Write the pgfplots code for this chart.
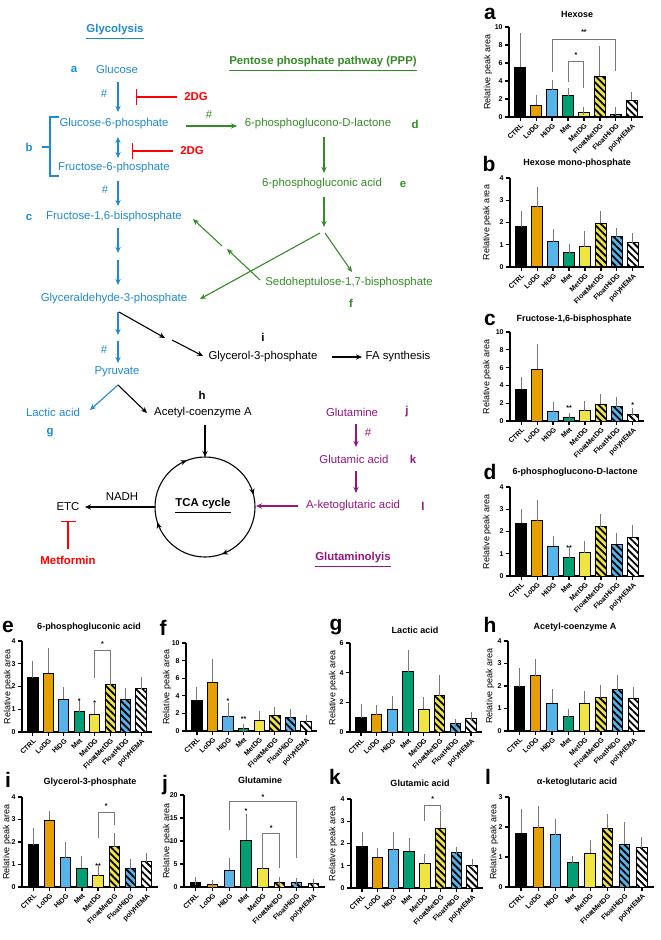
\documentclass[border=0pt]{standalone}
\usepackage{fontspec}
\setmainfont{Liberation Sans}
\usepackage{pgfplots}
\usepackage{pgfplotstable}
\pgfplotsset{compat=1.18}
\usetikzlibrary{patterns.meta,arrows.meta,decorations.markings}

\definecolor{cblue}{RGB}{30,138,208}
\definecolor{cgreen}{RGB}{52,140,38}
\definecolor{cpurple}{RGB}{150,22,128}
\definecolor{cred}{RGB}{255,0,0}
\definecolor{bOr}{HTML}{E69F00}
\definecolor{bBl}{HTML}{56B4E9}
\definecolor{bGr}{HTML}{009E73}
\definecolor{bYe}{HTML}{F0E442}
\definecolor{eGray}{RGB}{120,120,120}

\newcommand{\dfont}{\fontsize{5.7}{7}\selectfont}
\newcommand{\tfont}{\bfseries\fontsize{4.5}{5}\selectfont}
\newcommand{\lfont}{\fontsize{4.5}{5}\selectfont}
\newcommand{\kfont}{\bfseries\fontsize{3.5}{4}\selectfont}
\newcommand{\pfont}{\bfseries\fontsize{10.5}{12}\selectfont}

\pgfplotstableread{
y t
5.5 8.9
1.3 2.05
3.0 3.7
2.35 2.75
0.45 0.7
4.5 7.4
0.3 0.65
1.85 2.35
}\tA
\pgfplotstableread{
y t
1.81 2.33
2.70 3.43
1.13 1.54
0.65 0.87
0.92 1.42
1.96 2.35
1.35 1.58
1.09 1.36
}\tB
\pgfplotstableread{
y t
3.55 4.55
5.8 8.2
1.05 1.68
0.35 0.42
1.13 1.77
1.9 2.55
1.62 2.28
0.75 1.05
}\tC
\pgfplotstableread{
y t
2.38 2.85
2.48 3.25
1.33 1.62
0.83 1.1
1.05 1.4
2.22 2.6
1.42 1.75
1.75 2.1
}\tD
\pgfplotstableread{
y t
2.38 2.93
2.58 3.52
1.45 1.8
0.9 1.22
0.78 1.1
2.08 2.52
1.43 1.76
1.91 2.26
}\tE
\pgfplotstableread{
y t
3.5 4.5
5.53 7.75
1.6 2.75
0.25 0.33
1.22 1.8
1.8 2.28
1.5 2.05
1.03 1.33
}\tF
\pgfplotstableread{
y t
0.95 1.65
1.18 1.52
1.54 2.19
4.05 5.27
1.54 2.1
2.45 3.6
0.57 0.61
0.9 1.09
}\tG
\pgfplotstableread{
y t
1.96 2.62
2.46 3.03
1.23 1.69
0.64 0.82
1.23 1.6
1.48 1.86
1.84 2.31
1.45 1.77
}\tH
\pgfplotstableread{
y t
1.88 2.44
2.97 3.18
1.3 1.84
0.84 1.18
0.5 0.76
1.78 2.21
0.81 1.07
1.12 1.33
}\tI
\pgfplotstableread{
y t
0.95 1.2
0.6 0.75
3.6 5.4
10.2 14.9
4.0 6.05
1.05 1.2
0.95 1.02
0.8 0.9
}\tJ
\pgfplotstableread{
y t
1.88 2.32
1.38 1.64
1.72 2.33
1.65 2.06
1.08 1.34
2.69 3.27
1.58 1.68
1.01 1.14
}\tK
\pgfplotstableread{
y t
1.79 2.48
1.98 2.58
1.74 2.15
0.81 0.9
1.13 1.45
1.94 2.3
1.43 2.02
1.31 1.52
}\tL

\tikzset{sig/.style={draw=eGray, line width=0.5pt}}
\pgfplotsset{
  panel/.style={
    scale only axis, anchor=south west,
    xmin=-0.7, xmax=7.7, ymin=0,
    axis x line*=bottom, axis y line*=left,
    axis line style={line width=0.7pt},
    every tick/.style={black, line width=0.6pt},
    tick align=outside, major tick length=2pt,
    xtick={0,...,7},
    xticklabels={CTRL,LoDG,HiDG,Met,MetDG,FloatMetDG,FloatHiDG,polyHEMA},
    xticklabel style={rotate=45, anchor=north east, font=\kfont, inner sep=0.5pt},
    yticklabel style={font=\kfont, inner sep=1pt},
    /pgf/number format/assume math mode=true,
    ylabel={Relative peak area},
    ylabel style={font=\lfont, at={(axis description cs:0,0.5)}, anchor=center, yshift=#1*0.5pt},
    clip=false,
  },
  bb/.style={ybar, bar width=5.2pt, bar shift=0pt, draw=black, line width=0.5pt,
    error bars/y dir=plus, error bars/y explicit,
    error bars/error bar style={line width=0.5pt, draw=eGray},
    error bars/error mark options={line width=0.5pt, mark size=2pt, draw=eGray}},
  bs0/.style={fill=black, bb},
  bs1/.style={fill=bOr, bb},
  bs2/.style={fill=bBl, bb},
  bs3/.style={fill=bGr, bb},
  bs4/.style={fill=bYe, bb},
  bs5/.style={preaction={fill=bYe}, pattern={Lines[angle=-45,distance=2.4pt,line width=0.9pt]}, pattern color=black, bb},
  bs6/.style={preaction={fill=bBl}, pattern={Lines[angle=-45,distance=2.4pt,line width=0.9pt]}, pattern color=black, bb},
  bs7/.style={preaction={fill=white}, pattern={Lines[angle=-45,distance=2.4pt,line width=0.9pt]}, pattern color=black, bb},
}
\newcommand{\drawbars}[1]{\pgfplotsinvokeforeach{0,...,7}{\addplot[bs##1] table[x expr=\coordindex, y=y, y error expr=\thisrow{t}-\thisrow{y}, restrict x to domain=##1:##1] {#1};}}
\newcommand{\sst}[3]{\node[font=\kfont, inner sep=0pt] at (axis cs:#1,#2) {#3};}

\begin{document}
\begin{tikzpicture}[x=0.5pt,y=-0.5pt, >={Stealth[length=3pt,width=2.6pt]}]
\useasboundingbox (0,0) rectangle (660,940);

% ---------------- diagram ----------------
\begin{scope}[font=\dfont, line width=0.55pt]
\node[cblue, font=\dfont\bfseries] at (115,32) {\underline{Glycolysis}};
\node[cgreen, font=\dfont\bfseries] at (323,64) {\underline{Pentose phosphate pathway (PPP)}};
\node[cblue, font=\dfont\bfseries] at (74,69) {a};
\node[cblue] at (117,69) {Glucose};
\draw[cblue,->] (118,82) -- (118,112);
\node[cblue] at (104,94) {\#};
\draw[cred, line width=0.6pt, {Bar[width=8pt]}-] (136,97) -- (177,97);
\node[cred, font=\dfont\bfseries] at (196,97) {2DG};
\node[cblue] at (114,124) {Glucose-6-phosphate};
\draw[cgreen,->] (186,126) -- (237,126);
\node[cgreen] at (209,115) {\#};
\node[cgreen] at (318,124) {6-phosphoglucono-D-lactone};
\node[cgreen, font=\dfont\bfseries] at (415,124) {d};
\draw[cblue,<->] (118,137) -- (118,158);
\draw[cred, line width=0.6pt, {Bar[width=8pt]}-] (132,151) -- (173,151);
\node[cred, font=\dfont\bfseries] at (192,151) {2DG};
\node[cblue, font=\dfont\bfseries] at (29,147) {b};
\draw[cblue] (59,117) -- (50,117) -- (50,176) -- (59,176);
\draw[cblue] (42,147) -- (50,147);
\node[cblue] at (114,168) {Fructose-6-phosphate};
\node[cblue] at (105,190) {\#};
\draw[cblue,->] (118,181) -- (118,206);
\node[cblue, font=\dfont\bfseries] at (29,217) {c};
\node[cblue] at (114,217) {Fructose-1,6-bisphosphate};
\draw[cgreen,->] (324,137) -- (324,173);
\node[cgreen] at (322,184) {6-phosphogluconic acid};
\node[cgreen, font=\dfont\bfseries] at (403,184) {e};
\draw[cgreen,->] (324,197) -- (324,227);
\draw[cgreen,->] (320,233) -- (200,299);
\draw[cgreen,->] (325,233) -- (352,272);
\draw[cgreen,->] (260,280) -- (227,249);
\draw[cgreen,->] (222,246) -- (193,219);
\node[cgreen] at (349,283) {Sedoheptulose-1,7-bisphosphate};
\node[cgreen, font=\dfont\bfseries] at (351,303) {f};
\draw[cblue,->] (118,228) -- (118,253);
\draw[cblue,->] (118,260) -- (118,285);
\node[cblue] at (114,299) {Glyceraldehyde-3-phosphate};
\draw[cblue,->] (118,312) -- (118,335);
\draw[cblue,->] (118,341) -- (118,363);
\node[cblue] at (104,350) {\#};
\draw[->] (119,312) -- (165,338);
\draw[->] (172,340) -- (203,356);
\node[font=\dfont\bfseries] at (263,337) {i};
\node at (263,357) {Glycerol-3-phosphate};
\draw[->] (332,357) -- (362,357);
\node at (398,357) {FA synthesis};
\node[cblue] at (117,372) {Pyruvate};
\draw[cblue,->] (118,385) -- (90,410);
\node[cblue] at (53,412) {Lactic acid};
\node[cblue, font=\dfont\bfseries] at (50,433) {g};
\draw[->] (118,385) -- (147,413);
\node[font=\dfont\bfseries] at (202,395) {h};
\node at (203,413) {Acetyl-coenzyme A};
\draw[->] (205,425) -- (205,457);
\draw[decoration={markings,
   mark=at position 0.195 with {\arrow{Stealth[length=3pt,width=2.6pt]}},
   mark=at position 0.45 with {\arrow{Stealth[length=3pt,width=2.6pt]}},
   mark=at position 0.69 with {\arrow{Stealth[length=3pt,width=2.6pt]}},
   mark=at position 0.96 with {\arrow{Stealth[length=3pt,width=2.6pt]}}},
   postaction={decorate}] (205,507) circle[radius=50];
\node[font=\dfont\bfseries] at (203,506) {\underline{TCA cycle}};
\node at (122,497) {NADH};
\draw[->] (155,507) -- (85,507);
\node at (68,507) {ETC};
\draw[cred, line width=0.6pt, {Bar[width=7.5pt]}-] (68,521) -- (68,549);
\node[cred, font=\dfont\bfseries] at (68,560) {Metformin};
\node[cpurple] at (352,412) {Glutamine};
\node[cpurple, font=\dfont\bfseries] at (407,412) {j};
\draw[cpurple,->] (356,424) -- (356,447);
\node[cpurple] at (368,433) {\#};
\node[cpurple] at (354,459) {Glutamic acid};
\node[cpurple, font=\dfont\bfseries] at (413,459) {k};
\draw[cpurple,->] (356,471) -- (356,493);
\node[cpurple] at (353,506) {A-ketoglutaric acid};
\node[cpurple, font=\dfont\bfseries] at (423,506) {l};
\draw[cpurple,->] (298,506) -- (256,506);
\node[cpurple, font=\dfont\bfseries] at (353,560) {\underline{Glutaminolyis}};
\end{scope}

% ---------------- titles & letters ----------------
\node[font=\pfont] at (490,14) {a};
\node[font=\tfont] at (577,14) {Hexose};
\node[font=\pfont] at (489,164) {b};
\node[font=\tfont] at (577,163) {Hexose mono-phosphate};
\node[font=\pfont] at (490,320) {c};
\node[font=\tfont] at (574,319) {Fructose-1,6-bisphosphate};
\node[font=\pfont] at (490,472) {d};
\node[font=\tfont] at (575,472) {6-phosphoglucono-D-lactone};
\node[font=\pfont] at (8,627) {e};
\node[font=\tfont] at (89,627) {6-phosphogluconic acid};
\node[font=\pfont] at (163,628) {f};
\node[font=\pfont] at (336,627) {g};
\node[font=\tfont] at (415,630) {Lactic acid};
\node[font=\pfont] at (490,625) {h};
\node[font=\tfont] at (575,627) {Acetyl-coenzyme A};
\node[font=\pfont] at (8,780) {i};
\node[font=\tfont] at (90,782) {Glycerol-3-phosphate};
\node[font=\pfont] at (165,785) {j};
\node[font=\tfont] at (260,780) {Glutamine};
\node[font=\pfont] at (335,777) {k};
\node[font=\tfont] at (420,783) {Glutamic acid};
\node[font=\pfont] at (488,777) {l};
\node[font=\tfont] at (577,782) {α-ketoglutaric acid};

% ---------------- a ----------------
\begin{axis}[panel=21, at={(509*0.5pt,-117*0.5pt)}, width=134*0.5pt, height=90*0.5pt, ymax=10, ytick={0,2,...,10}]
\drawbars{\tA}
\draw[sig] (axis cs:2,5.0) -- (axis cs:2,8.65) -- (axis cs:6,8.65) -- (axis cs:6,5.1);
\sst{4}{9.4}{**}
\draw[sig] (axis cs:3,3.9) -- (axis cs:3,6.15) -- (axis cs:4,6.15) -- (axis cs:4,3.2);
\sst{3.5}{6.9}{*}
\end{axis}
% ---------------- b ----------------
\begin{axis}[panel=23, at={(510*0.5pt,-267*0.5pt)}, width=134*0.5pt, height=89*0.5pt, ymax=4, ytick={0,1,...,4}]
\drawbars{\tB}
\end{axis}
% ---------------- c ----------------
\begin{axis}[panel=23, at={(510*0.5pt,-421*0.5pt)}, width=134*0.5pt, height=89*0.5pt, ymax=10, ytick={0,2,...,10}]
\drawbars{\tC}
\sst{3}{1.5}{**}
\sst{7}{1.75}{*}
\end{axis}
% ---------------- d ----------------
\begin{axis}[panel=23, at={(510*0.5pt,-576*0.5pt)}, width=134*0.5pt, height=89*0.5pt, ymax=4, ytick={0,1,...,4}]
\drawbars{\tD}
\sst{3}{1.25}{**}
\end{axis}
% ---------------- e ----------------
\begin{axis}[panel=14, at={(22*0.5pt,-732*0.5pt)}, width=130*0.5pt, height=91*0.5pt, ymax=4, ytick={0,1,...,4}]
\drawbars{\tE}
\sst{3}{1.37}{*}
\sst{4}{1.27}{*}
\draw[sig] (axis cs:4,2.36) -- (axis cs:4,3.6) -- (axis cs:5,3.6) -- (axis cs:5,2.7);
\sst{4.5}{3.85}{*}
\end{axis}
% ---------------- f ----------------
\begin{axis}[panel=19, at={(186*0.5pt,-731*0.5pt)}, width=131*0.5pt, height=88*0.5pt, ymax=10, ytick={0,2,...,10}]
\drawbars{\tF}
\sst{2}{3.4}{*}
\sst{3}{1.35}{**}
\end{axis}
% ---------------- g ----------------
\begin{axis}[panel=17, at={(350*0.5pt,-732*0.5pt)}, width=132*0.5pt, height=89*0.5pt, ymax=6, ytick={0,2,...,6}]
\drawbars{\tG}
\end{axis}
% ---------------- h ----------------
\begin{axis}[panel=18, at={(508*0.5pt,-731*0.5pt)}, width=137*0.5pt, height=90*0.5pt, ymax=4, ytick={0,1,...,4}]
\drawbars{\tH}
\end{axis}
% ---------------- i ----------------
\begin{axis}[panel=15, at={(22*0.5pt,-887*0.5pt)}, width=136*0.5pt, height=90*0.5pt, ymax=4, ytick={0,1,...,4}]
\drawbars{\tI}
\sst{4}{0.95}{**}
\draw[sig] (axis cs:4,2.19) -- (axis cs:4,3.33) -- (axis cs:5,3.33) -- (axis cs:5,2.74);
\sst{4.5}{3.6}{*}
\end{axis}
% ---------------- j ----------------
\begin{axis}[panel=17, at={(184*0.5pt,-887*0.5pt)}, width=141*0.5pt, height=92*0.5pt, ymax=20, ytick={0,5,...,20}]
\drawbars{\tJ}
\sst{3}{16.4}{*}
\draw[sig] (axis cs:2,12.4) -- (axis cs:2,18.5) -- (axis cs:6,18.5) -- (axis cs:6,6.4);
\sst{4}{19.6}{*}
\draw[sig] (axis cs:4,6.9) -- (axis cs:4,11.6) -- (axis cs:5,11.6) -- (axis cs:5,4.2);
\sst{4.5}{12.7}{*}
\end{axis}
% ---------------- k ----------------
\begin{axis}[panel=18, at={(351*0.5pt,-888*0.5pt)}, width=132*0.5pt, height=89*0.5pt, ymax=4, ytick={0,1,...,4}]
\drawbars{\tK}
\draw[sig] (axis cs:4,2.99) -- (axis cs:4,3.7) -- (axis cs:5,3.7) -- (axis cs:5,3.52);
\sst{4.5}{3.98}{*}
\end{axis}
% ---------------- l ----------------
\begin{axis}[panel=15, at={(509*0.5pt,-887*0.5pt)}, width=145*0.5pt, height=90*0.5pt, ymax=3, ytick={0,1,...,3}]
\drawbars{\tL}
\end{axis}
\end{tikzpicture}
\end{document}
